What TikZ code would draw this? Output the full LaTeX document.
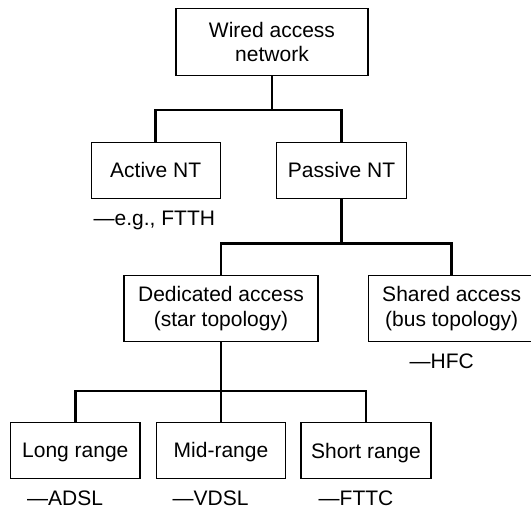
\documentclass[tikz,border=0pt]{standalone}
\usepackage{fontspec}
\setmainfont{Liberation Sans}
\begin{document}
\begin{tikzpicture}[x=0.5pt,y=-0.5pt,
  box/.style={draw=black,line width=0.6pt,inner sep=0pt,align=center,
    font=\fontsize{10.5}{12.2}\selectfont},
  wide/.style={box,minimum height=33pt},
  flat/.style={box,minimum height=28pt,text height=7.6pt,text depth=0pt},
  conn/.style={line width=1.35pt},
  note/.style={anchor=base west,inner sep=0pt,font=\fontsize{10.5}{12.2}\selectfont}]
\useasboundingbox (0,0) rectangle (531,510);
\clip (0,0) rectangle (531,510);

% boxes
\node[wide,minimum width=96pt,minimum height=33.5pt] (top) at (272,41.7) {Wired access\\network};
\node[flat,minimum width=64.6pt] (active) at (155.7,170.3) {Active NT};
\node[flat,minimum width=64.8pt] (passive) at (341.5,170.3) {Passive NT};
\node[wide,minimum width=97pt] (dedicated) at (221,308.7) {Dedicated access\\(star topology)};
\node[wide,minimum width=83.5pt] (shared) at (451.7,308.7) {Shared access\\(bus topology)};
\node[flat,minimum width=64.6pt] (long) at (75.3,450.3) {Long range};
\node[flat,minimum width=64.8pt] (mid) at (221,450.3) {Mid-range};
\node[flat,minimum width=65pt] (short) at (366,450.5) {Short range};

% examples
\node[note] (ftth) at (93.3,225) {—e.g., FTTH};
\node[note] (hfc) at (409.3,368.5) {—HFC};
\node[note] (adsl) at (26.7,505) {—ADSL};
\node[note] (vdsl) at (172.3,505) {—VDSL};
\node[note] (fttc) at (318.3,505) {—FTTC};

% tree connectors
\coordinate (j1) at (272,110);
\coordinate (j2) at (341.5,243.5);
\coordinate (j3) at (221,391);
\draw[conn] (top.south) -- (j1);
\draw[conn] (active.north) |- (j1) -| (passive.north);
\draw[conn] (passive.south) -- (j2);
\draw[conn] (dedicated.north) |- (j2) -| (shared.north);
\draw[conn] (dedicated.south) -- (mid.north);
\draw[conn] (long.north) |- (j3) -| (short.north);
\end{tikzpicture}
\end{document}
